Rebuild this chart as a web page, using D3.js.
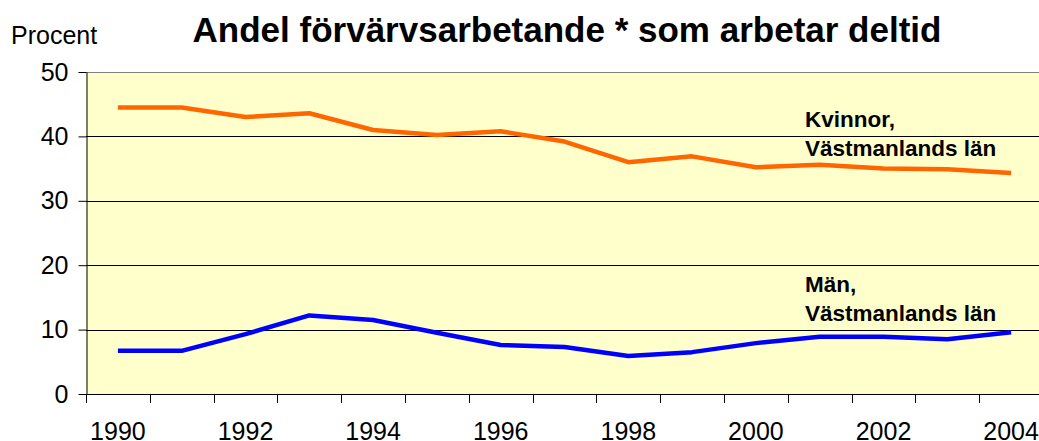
<!DOCTYPE html>
<html>
<head>
<meta charset="utf-8">
<script src="https://cdn.jsdelivr.net/npm/d3@7"></script>
<style>
  body { margin: 0; background: #fff; }
  svg { display: block; font-family: "Liberation Sans", Arial, sans-serif; }
</style>
</head>
<body>
<div id="container"></div>
<script>
var years = ["1990", "1991", "1992", "1993", "1994", "1995", "1996", "1997",
  "1998", "1999", "2000", "2001", "2002", "2003", "2004"];
var kvinnor = [44.5, 44.5, 43.0, 43.6, 41.0, 40.2, 40.8, 39.2, 36.0, 36.9, 35.2, 35.6, 35.0, 34.9, 34.3];
var man = [6.7, 6.7, 9.3, 12.2, 11.5, 9.5, 7.6, 7.3, 5.9, 6.5, 7.9, 8.9, 8.9, 8.5, 9.6];
var yTicks = [0, 10, 20, 30, 40, 50];
var xLabels = ["1990", "1992", "1994", "1996", "1998", "2000", "2002", "2004"];

var W = 1039, H = 441;
// plot area edges (top is a reserved window name, so use p-prefixed names)
var pLeft = 86, pTop = 72, pRight = 1043, pBottom = 394;

var svg = d3
  .select("#container")
  .append("svg")
  .attr("width", W)
  .attr("height", H);

var x = d3.scaleBand().domain(years).range([pLeft, pRight]).padding(0);
var y = d3.scaleLinear().domain([0, 50]).range([pBottom, pTop]);
var cx = d => x(d) + x.bandwidth() / 2;

// plot area
svg.append("rect")
  .attr("x", pLeft)
  .attr("y", pTop)
  .attr("width", pRight - pLeft)
  .attr("height", pBottom - pTop)
  .style("fill", "#ffffcc");

svg.append("line")
  .attr("x1", pLeft).attr("x2", pRight)
  .attr("y1", y(50) + 0.5).attr("y2", y(50) + 0.5)
  .style("stroke", "#808080");

// gridlines
svg.selectAll(".grid")
  .data(yTicks.filter(v => v > 0 && v < 50))
  .enter()
  .append("line")
  .attr("class", "grid")
  .attr("x1", pLeft).attr("x2", pRight)
  .attr("y1", d => Math.round(y(d)) + 0.5)
  .attr("y2", d => Math.round(y(d)) + 0.5)
  .style("stroke", "#000")
  .style("stroke-width", 1);

// y axis
var yAxis = svg.append("g")
  .attr("transform", "translate(" + (pLeft + 0.5) + ",0)")
  .call(d3.axisLeft(y).tickValues(yTicks).tickSize(8).tickPadding(10).tickSizeOuter(0));
yAxis.select(".domain").style("stroke", "#000");
yAxis.selectAll(".tick line").style("stroke", "#000");
yAxis.selectAll("text")
  .style("font-size", "25px")
  .style("fill", "#000")
  .style("font-family", "'Liberation Sans', Arial, sans-serif");

// x axis line and category ticks
svg.append("line")
  .attr("x1", pLeft).attr("x2", pRight)
  .attr("y1", pBottom + 0.5).attr("y2", pBottom + 0.5)
  .style("stroke", "#000");

svg.selectAll(".xtick")
  .data(years)
  .enter()
  .append("line")
  .attr("class", "xtick")
  .attr("x1", d => Math.round(x(d)) + 0.5)
  .attr("x2", d => Math.round(x(d)) + 0.5)
  .attr("y1", pBottom)
  .attr("y2", pBottom + 9)
  .style("stroke", "#000");

svg.selectAll(".xlabel")
  .data(xLabels)
  .enter()
  .append("text")
  .attr("class", "xlabel")
  .attr("x", d => cx(d))
  .attr("y", 440)
  .attr("text-anchor", "middle")
  .style("font-size", "25px")
  .text(d => d);

// lines
var line = d3.line()
  .x((d, i) => cx(years[i]))
  .y(d => y(d));

svg.append("path")
  .datum(kvinnor)
  .attr("d", line)
  .style("fill", "none")
  .style("stroke", "#ff6600")
  .style("stroke-width", 4.5)
  .style("stroke-linejoin", "round");

svg.append("path")
  .datum(man)
  .attr("d", line)
  .style("fill", "none")
  .style("stroke", "#0000ff")
  .style("stroke-width", 4.5)
  .style("stroke-linejoin", "round");

// labels
var notes = [
  { lines: ["Kvinnor,", "Västmanlands län"], y: 127 },
  { lines: ["Män,", "Västmanlands län"], y: 292 }
];
notes.forEach(function(n) {
  var t = svg.append("text")
    .attr("x", 805)
    .attr("y", n.y)
    .style("font-size", "22.5px")
    .style("font-weight", "bold");
  n.lines.forEach(function(s, i) {
    t.append("tspan").attr("x", 805).attr("dy", i ? 28.5 : 0).text(s);
  });
});

svg.append("text")
  .attr("x", 11)
  .attr("y", 44)
  .style("font-size", "25px")
  .text("Procent");

svg.append("text")
  .attr("x", 567)
  .attr("y", 42)
  .attr("text-anchor", "middle")
  .style("font-size", "35px")
  .style("font-weight", "bold")
  .text("Andel förvärvsarbetande * som arbetar deltid");
</script>
</body>
</html>
